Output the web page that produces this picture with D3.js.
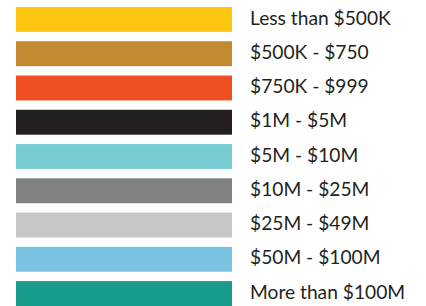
<!DOCTYPE html>
<html>
<head>
<meta charset="utf-8">
<script src="https://cdn.jsdelivr.net/npm/d3@7"></script>
<style>
  html, body { margin: 0; padding: 0; background: #fff; }
  .label { font-family: Lato, "Open Sans", sans-serif; font-size: 19.2px; fill: #231f20; }
</style>
</head>
<body>
<div id="legend"></div>
<script>
var categories = ["Less than $500K", "$500K - $750", "$750K - $999", "$1M - $5M", "$5M - $10M",
  "$10M - $25M", "$25M - $49M", "$50M - $100M", "More than $100M"];
var colors = ["#fdc70f", "#c48830", "#f04e23", "#231f20", "#77cdd3",
  "#808184", "#c6c7c9", "#7ac2e2", "#189b8a"];

var width = 426, height = 306;

var svg = d3.select("#legend").append("svg")
  .attr("width", width).attr("height", height);

var y = d3.scaleBand().domain(categories).range([7, 306]).paddingInner(0.273).paddingOuter(0);
var color = d3.scaleOrdinal().domain(categories).range(colors);

var row = svg.selectAll("g.row").data(categories).enter().append("g")
  .attr("class", "row")
  .attr("transform", function(d) { return "translate(0," + y(d) + ")"; });

row.append("rect")
  .attr("x", 16).attr("y", 0)
  .attr("width", 216).attr("height", y.bandwidth())
  .style("fill", function(d) { return color(d); });

row.append("text")
  .attr("class", "label")
  .attr("x", 250).attr("y", 17.5)
  .text(function(d) { return d; });
</script>
</body>
</html>
